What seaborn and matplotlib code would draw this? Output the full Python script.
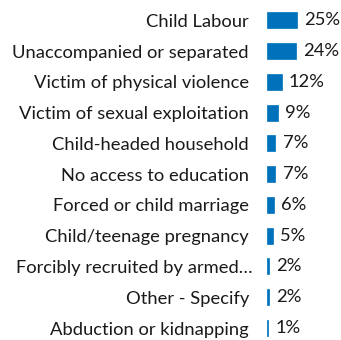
import matplotlib
matplotlib.use("Agg")
import matplotlib.pyplot as plt
import matplotlib.transforms as mtransforms
import seaborn as sns
import pandas as pd

categories = ["Child Labour", "Unaccompanied or separated", "Victim of physical violence",
              "Victim of sexual exploitation", "Child-headed household", "No access to education",
              "Forced or child marriage", "Child/teenage pregnancy", "Forcibly recruited by armed\u2026",
              "Other - Specify", "Abduction or kidnapping"]
values = [25, 24, 12, 9, 7, 7, 6, 5, 2, 2, 1]
value_labels = ["25%", "24%", "12%", "9%", "7%", "7%", "6%", "5%", "2%", "2%", "1%"]

sns.set_theme(style="white")
plt.rcParams['font.family'] = ['Lato', 'DejaVu Sans']

df = pd.DataFrame({"cat": categories, "val": values})
fig = plt.figure(figsize=(3.41, 3.40), dpi=100)
ax = fig.add_axes([267/341, 0.0, 1 - 267/341, 1.0])
sns.barplot(data=df, y="cat", x="val", color="#0072BC", saturation=1, width=0.52, ax=ax,
            orient="h", edgecolor="#0072BC", linewidth=0.5)
ax.set_xlim(0, 61)
ax.set_ylim(10.39, -0.66)
for s in ax.spines.values():
    s.set_visible(False)
ax.set_xlabel("")
ax.set_ylabel("")
ax.set_xticks([])
ax.tick_params(axis="y", length=0, pad=13, labelsize=13.2, labelcolor="#1a1a1a")
lbls = ax.get_yticklabels()
lbls[8].set_transform(lbls[8].get_transform() + mtransforms.ScaledTranslation(4/100, 0, fig.dpi_scale_trans))
for i, (v, lab) in enumerate(zip(values, value_labels)):
    ax.text(v + 5.8, i, lab, va="center", ha="left", fontsize=13.2, color="#1a1a1a")
fig.savefig("out.png", dpi=100)
